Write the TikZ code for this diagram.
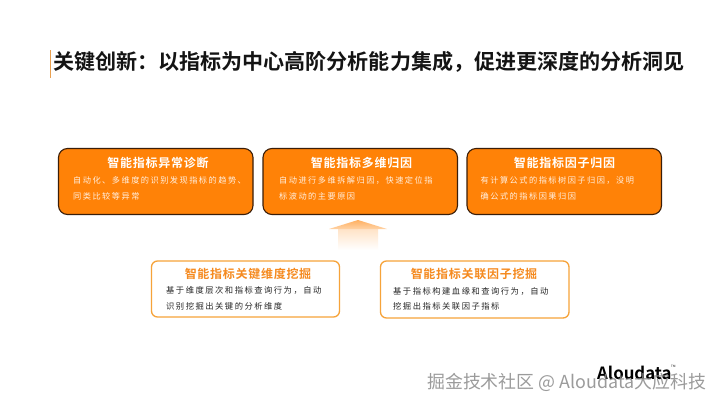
\documentclass[tikz,border=0pt]{standalone}
\usepackage{fontspec}
\setmainfont{Noto Sans CJK SC}
\newfontfamily\cjkhead[LetterSpace=6]{Noto Sans CJK SC Bold}
\newfontfamily\cjkbody[LetterSpace=18]{Noto Sans CJK SC}
\newfontfamily\cjkplain{Noto Sans CJK SC}
\newfontfamily\cjkbold{Noto Sans CJK SC Bold}
\newcommand{\fwcomma}{\symbol{"FF0C}}
\newcommand{\fwcolon}{\symbol{"FF1A}}
\definecolor{boxorange}{HTML}{FF8207}
\definecolor{boxedge}{HTML}{3A1E0A}
\definecolor{softedge}{HTML}{F6A33A}
\definecolor{headorange}{HTML}{F58A1F}
\definecolor{barorange}{HTML}{E9A050}
\definecolor{inktext}{HTML}{141414}
\definecolor{wmgray}{HTML}{8A8A8A}
\tikzset{
 x=1pt,y=-1pt,
 hotbox/.style={draw=boxedge,line width=1.1pt,fill=boxorange,rounded corners=9pt},
 softbox/.style={draw=softedge,line width=1.3pt,fill=white,rounded corners=6pt},
 hothead/.style={anchor=center,inner sep=0,text=white,font=\cjkhead\fontsize{12}{12}\selectfont},
 hotline/.style={anchor=west,inner sep=0,text=white!88!boxorange,font=\cjkbody\fontsize{8.2}{8.2}\selectfont},
 softhead/.style={anchor=center,inner sep=0,text=headorange,font=\cjkhead\fontsize{12}{12}\selectfont},
 softline/.style={anchor=west,inner sep=0,text=black!85,font=\cjkbody\fontsize{8.3}{8.3}\selectfont},
}
\begin{document}
\begin{tikzpicture}
\useasboundingbox (0,0) rectangle (720,405);
\fill[white] (0,0) rectangle (720,405);
% title
\fill[barorange] (49.6,50) rectangle (51.2,78);
\node[anchor=west,inner sep=0,text=inktext,font=\cjkbold\fontsize{21.05}{21}\selectfont] (title) at (53,62) {关键创新\fwcolon 以指标为中心高阶分析能力集成\fwcomma 促进更深度的分析洞见};
% top boxes
\draw[hotbox] (58.5,148.5) rectangle (253,214.5);
\draw[hotbox] (263,148.5) rectangle (457.5,214.5);
\draw[hotbox] (467,148.5) rectangle (661.5,214.5);
\node[hothead] (h1) at (158,163) {智能指标异常诊断};
\node[hotline] (a1) at (73,180) {自动化、多维度的识别发现指标的趋势、};
\node[hotline] (a2) at (73,196) {同类比较等异常};
\node[hothead] (h2) at (361.5,163) {智能指标多维归因};
\node[hotline] (b1) at (279,180) {自动进行多维拆解归因\fwcomma 快速定位指};
\node[hotline] (b2) at (279,196) {标波动的主要原因};
\node[hothead] (h3) at (564.5,163) {智能指标因子归因};
\node[hotline] (c1) at (480.5,180) {有计算公式的指标树因子归因\fwcomma 没明};
\node[hotline] (c2) at (480.5,196) {确公式的指标因果归因};
% arrow
\shade[top color=orange!22!white,bottom color=white] (338,229) rectangle (378,250);
\shade[top color=orange!62!white,bottom color=orange!35!white] (358,220) -- (387,229) -- (329,229) -- cycle;
% bottom boxes
\draw[softbox] (151.5,261) rectangle (339.5,317);
\draw[softbox] (380.5,261) rectangle (569,318);
\node[softhead] (h4) at (248,274) {智能指标关键维度挖掘};
\node[softline] (d1) at (166,290) {基于维度层次和指标查询行为\fwcomma 自动};
\node[softline] (d2) at (166,306) {识别挖掘出关键的分析维度};
\node[softhead] (h5) at (474,274) {智能指标关联因子挖掘};
\node[softline] (e1) at (393,291) {基于指标构建血缘和查询行为\fwcomma 自动};
\node[softline] (e2) at (393,306.5) {挖掘出指标关联因子指标};
% logo
\node[anchor=west,inner sep=0,text=black,font=\cjkbold\fontsize{16.8}{17}\selectfont] (logo) at (597,372.5) {Aloudata};
\node[anchor=west,inner sep=0,text=black,font=\cjkplain\fontsize{3}{3}\selectfont] (tm) at (671,366) {TM};
% watermark
\node[anchor=west,inner sep=0,text=wmgray,opacity=.85,font=\cjkplain\fontsize{17.9}{18}\selectfont] (wm) at (427,382) {掘金技术社区 @ Aloudata大应科技};
\end{tikzpicture}
\end{document}
